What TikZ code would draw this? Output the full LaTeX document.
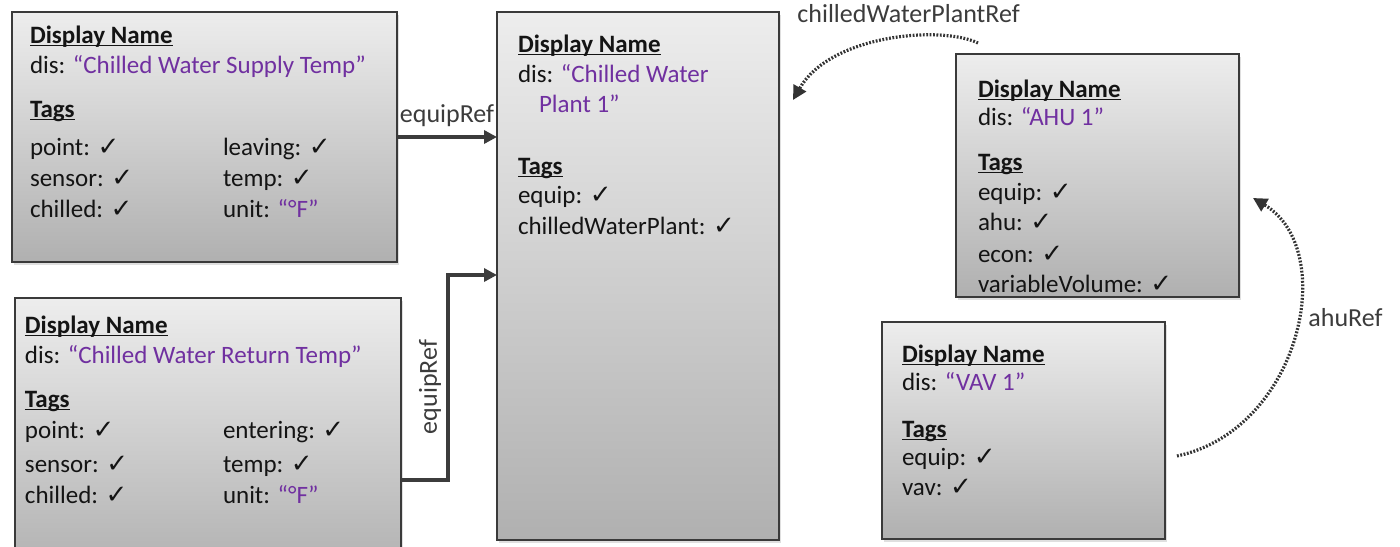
\documentclass[tikz,border=0pt]{standalone}
\usepackage{fontspec}
\setmainfont{Carlito}
\newfontfamily\chkfont{DejaVu Sans}
\usetikzlibrary{shadows,arrows.meta,calc}
\definecolor{purp}{HTML}{7030A0}
\definecolor{ink}{HTML}{141414}
\definecolor{lbl}{HTML}{3C3C3C}
\definecolor{edge}{HTML}{3A3A3A}
\newlength\ulwd
\newcommand\hdr[1]{\settowidth\ulwd{\bfseries #1}\rlap{\rule[-1.7pt]{\ulwd}{0.65pt}}{\bfseries #1}}
\newcommand\ck{{\chkfont\fontsize{13pt}{15pt}\selectfont ✓}}
\newcommand\pq[1]{\textcolor{purp}{“#1”}}
\begin{document}
\begin{tikzpicture}[x=0.5pt,y=-0.5pt,
  box/.style={draw=edge, line width=0.7pt, top color=black!7, bottom color=black!31,
    drop shadow={shadow xshift=1.2pt, shadow yshift=-1.5pt, opacity=0.25},
    inner sep=0pt, outer sep=0pt, anchor=north west},
  t/.style={anchor=base west, inner sep=0pt, outer sep=0pt,
    font=\fontsize{12.5pt}{15pt}\selectfont, text=ink},
  lab/.style={font=\fontsize{13pt}{15pt}\selectfont, text=lbl, inner sep=0pt},
  fat/.style={draw=lbl, line width=2pt, -{Triangle[length=6.5pt,width=6.5pt]}},
  dots/.style={draw=black!80, line width=1.6pt, dash pattern=on 0.9pt off 0.8pt,
    -{Triangle[length=7pt,width=7pt]}}]
\clip (0,0) rectangle (1400,546);
\fill[white] (0,0) rectangle (1400,546);
% boxes
\node[box, minimum width=192.5pt, minimum height=125pt] (b1) at (12,12) {};
\node[box, minimum width=193pt, minimum height=138.5pt] (b2) at (15,298) {};
\node[box, minimum width=141pt, minimum height=264pt] (cwp) at (497,12) {};
\node[box, minimum width=141.5pt, minimum height=121.5pt] (ahu) at (956,54) {};
\node[box, minimum width=141.5pt, minimum height=108.5pt] (vav) at (882,322) {};
% connectors
\draw[fat] (b1.east) -- node[lab, above=4pt] (l1) {equipRef} (b1.east -| cwp.west);
\coordinate (k1) at (448,480);
\coordinate (k2) at (448,275);
\draw[fat] (b2.east |- k1) -- (k1) -- (k2) -- (cwp.west |- k2);
\node[lab, rotate=90] (l2) at (430,387) {equipRef};
\draw[dots] ($(ahu.north west)+(11pt,5.5pt)$) .. controls (940,25) and (830,35) .. ($(cwp.north east)+(7pt,-44pt)$);
\node[lab, anchor=base west] (l3) at (797,22) {chilledWaterPlantRef};
\draw[dots] ($(vav.east)+(6pt,-12.75pt)$) .. controls (1300,430) and (1340,250) .. ($(ahu.east)+(7pt,-11.25pt)$);
\node[lab, anchor=base west] (l4) at (1308,326) {ahuRef};
% box 1 text
\node[t] (s1) at (30,43) {\hdr{Display Name}};
\node[t] (s2) at (30,73) {dis: \pq{Chilled Water Supply Temp}};
\node[t] (s3) at (30,117) {\hdr{Tags}};
\node[t] (s4) at (30,155) {point: \ck};
\node[t] (s5) at (30,186) {sensor: \ck};
\node[t] (s6) at (30,217) {chilled: \ck};
\node[t] (s7) at (223,155) {leaving: \ck};
\node[t] (s8) at (223,186) {temp: \ck};
\node[t] (s9) at (223,217) {unit: \pq{°F}};
% box 2 text
\node[t] (r1) at (25,333) {\hdr{Display Name}};
\node[t] (r2) at (25,363) {dis: \pq{Chilled Water Return Temp}};
\node[t] (r3) at (25,407) {\hdr{Tags}};
\node[t] (r4) at (25,438) {point: \ck};
\node[t] (r5) at (25,472) {sensor: \ck};
\node[t] (r6) at (25,503) {chilled: \ck};
\node[t] (r7) at (223,438) {entering: \ck};
\node[t] (r8) at (223,472) {temp: \ck};
\node[t] (r9) at (223,503) {unit: \pq{°F}};
% plant text
\node[t] (p1) at (518,52) {\hdr{Display Name}};
\node[t] (p2) at (518,82) {dis: \textcolor{purp}{“Chilled Water}};
\node[t] (p3) at (539,112) {\textcolor{purp}{Plant 1”}};
\node[t] (p4) at (518,174) {\hdr{Tags}};
\node[t] (p5) at (518,203) {equip: \ck};
\node[t] (p6) at (518,234) {chilledWaterPlant: \ck};
% ahu text
\node[t] (a1) at (978,97) {\hdr{Display Name}};
\node[t] (a2) at (978,125) {dis: \pq{AHU 1}};
\node[t] (a3) at (978,170) {\hdr{Tags}};
\node[t] (a4) at (978,200) {equip: \ck};
\node[t] (a5) at (978,230) {ahu: \ck};
\node[t] (a6) at (978,262) {econ: \ck};
\node[t] (a7) at (978,292) {variableVolume: \ck};
% vav text
\node[t] (v1) at (902,362) {\hdr{Display Name}};
\node[t] (v2) at (902,390) {dis: \pq{VAV 1}};
\node[t] (v3) at (902,437) {\hdr{Tags}};
\node[t] (v4) at (902,465) {equip: \ck};
\node[t] (v5) at (902,495) {vav: \ck};
\end{tikzpicture}
\end{document}
